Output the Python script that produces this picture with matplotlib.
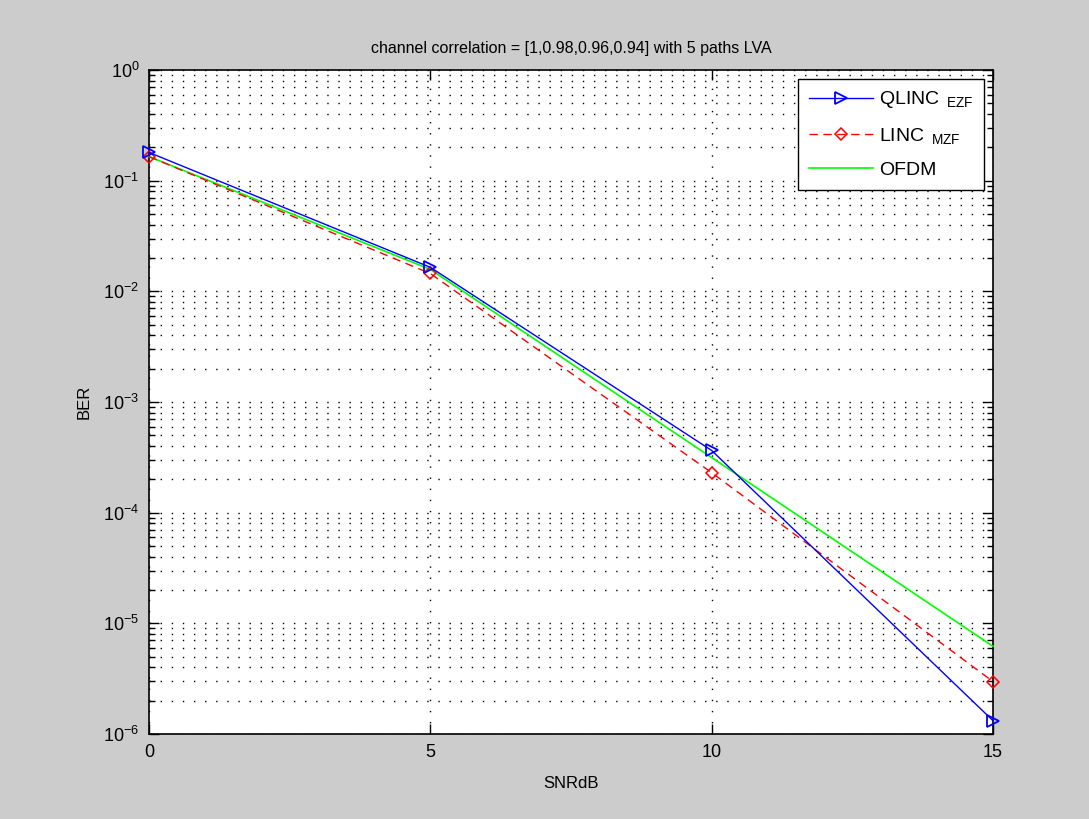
import matplotlib
matplotlib.use("Agg")
import matplotlib.pyplot as plt
from matplotlib.ticker import LogLocator, NullFormatter, FixedLocator

plt.rcParams['font.family'] = ['Liberation Sans', 'DejaVu Sans']
plt.rcParams['mathtext.fontset'] = 'custom'
plt.rcParams['mathtext.rm'] = 'Liberation Sans'
plt.rcParams['mathtext.it'] = 'Liberation Sans'

snr = [0, 5, 10, 15]
qlinc = [0.18, 0.0165, 3.65e-4, 1.32e-6]
linc = [0.165, 0.0145, 2.3e-4, 2.98e-6]
ofdm = [0.165, 0.0158, 3.15e-4, 6.2e-6]

title = 'channel correlation = [1,0.98,0.96,0.94] with 5 paths LVA'
labels = [r'QLINC$_{\rm\ \ EZF}$', r'LINC$_{\rm\ \ MZF}$', 'OFDM']
yticks = [1e-6, 1e-5, 1e-4, 1e-3, 1e-2, 1e-1, 1e0]

fig = plt.figure(figsize=(10.89, 8.19), dpi=100, facecolor='#cccccc')
ax = fig.add_axes([0.1368, 0.1038, 0.775, 0.8107])
ax.set_facecolor('white')

ax.plot(snr, qlinc, color='#0000ff', marker='>', markersize=9, markerfacecolor='none',
        markeredgecolor='#0000ff', markeredgewidth=1.3, linewidth=1.0, label=labels[0],
        clip_on=False, zorder=5)
ax.plot(snr, linc, color='#ff0000', linestyle=(0, (6, 4)), marker='D', markersize=6.5,
        markerfacecolor='none', markeredgecolor='#ff0000', markeredgewidth=1.1,
        linewidth=1.0, label=labels[1], clip_on=False, zorder=4)
ax.plot(snr, ofdm, color='#00ff00', linewidth=1.2, label=labels[2], clip_on=False, zorder=3)

ax.set_yscale('log')
ax.set_xlim(0, 15)
ax.set_ylim(1e-6, 1)
ax.xaxis.set_major_locator(FixedLocator(snr))
ax.yaxis.set_major_locator(FixedLocator(yticks))
ax.yaxis.set_minor_locator(LogLocator(base=10, subs=range(2, 10), numticks=100))
ax.yaxis.set_minor_formatter(NullFormatter())

ax.grid(True, which='major', axis='both', color='black', linestyle=(0, (1, 7)), linewidth=1.0)
ax.grid(True, which='minor', axis='y', color='black', linestyle=(0, (1, 7)), linewidth=1.0)

ax.tick_params(which='both', direction='in', top=True, right=True, labelsize=13, pad=7)
ax.tick_params(which='major', length=7, width=1)
ax.tick_params(which='minor', length=4, width=1)
for s in ax.spines.values():
    s.set_linewidth(1.2)

ax.set_title(title, fontsize=11.5, pad=12)
ax.set_xlabel('SNRdB', fontsize=12, labelpad=11)
ax.set_ylabel('BER', fontsize=12, labelpad=8)

leg = ax.legend(loc='upper right', fontsize=14, fancybox=False, edgecolor='black',
                framealpha=1, handlelength=3.3, handletextpad=0.3, borderpad=0.55,
                labelspacing=0.8, borderaxespad=0.45)
leg.get_frame().set_linewidth(1.0)

fig.savefig('out.png', dpi=100, facecolor=fig.get_facecolor())
